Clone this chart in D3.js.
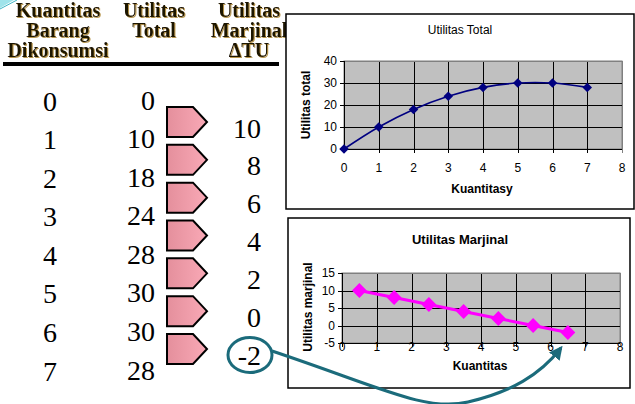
<!DOCTYPE html>
<html><head><meta charset="utf-8">
<script src="https://cdn.jsdelivr.net/npm/d3@7"></script>
<style>body{margin:0;background:#fff}svg{display:block}</style>
</head><body><svg id="c" width="635" height="404"></svg>
<script>
// ---------- data ----------
const quantities = [0, 1, 2, 3, 4, 5, 6, 7];
const totalUtility = [0, 10, 18, 24, 28, 30, 30, 28];
const marginalUtility = [10, 8, 6, 4, 2, 0, -2];
const marginalQty = [0.5, 1.5, 2.5, 3.5, 4.5, 5.5, 6.5];
const xTicks = [0, 1, 2, 3, 4, 5, 6, 7, 8];
const totalTicks = [0, 10, 20, 30, 40];
const marginalTicks = [-5, 0, 5, 10, 15];
const headQty = ["Kuantitas", "Barang", "Dikonsumsi"];
const headTotal = ["Utilitas", "Total"];
const headMarg = ["Utilitas", "Marjinal", "\u0394TU"];
const chart1Title = "Utilitas Total", chart1X = "Kuantitasy", chart1Y = "Utilitas total";
const chart2Title = "Utilitas Marjinal", chart2X = "Kuantitas", chart2Y = "Utilitas marjinal";

const svg = d3.select("#c");
const defs = svg.append("defs");
const grad = defs.append("linearGradient").attr("id", "pk");
grad.append("stop").attr("offset", "0%").attr("stop-color", "#e48f9c");
grad.append("stop").attr("offset", "100%").attr("stop-color", "#f9a9b6");
defs.append("marker").attr("id", "ah").attr("viewBox", "0 0 10 10")
  .attr("refX", 8).attr("refY", 5).attr("markerWidth", 4.5).attr("markerHeight", 4.5)
  .attr("orient", "auto").attr("markerUnits", "strokeWidth")
  .append("path").attr("d", "M0,0 L10,5 L0,10 Z").attr("fill", "#1b6b7b");
defs.append("filter").attr("id", "sh").attr("x", "-10%").attr("y", "-20%").attr("width", "130%").attr("height", "150%")
  .append("feDropShadow").attr("dx", 1).attr("dy", 1).attr("stdDeviation", 0.4)
  .attr("flood-color", "#b08a3a").attr("flood-opacity", 0.9);

// corner decoration
svg.append("path").attr("d", "M0,0 L14,0 L0,8 Z").attr("fill", "#9fe3ea");
svg.append("path").attr("d", "M0,9 L17,0").attr("stroke", "#3fb4c4").attr("stroke-width", 1);

// ---------- headers ----------
const serif = "'Liberation Serif','DejaVu Serif',serif";
function header(lines, cx) {
  lines.forEach((t, i) => {
    svg.append("text").attr("x", cx).attr("y", 17 + i * 20).attr("text-anchor", "middle")
      .attr("font-family", serif).attr("font-weight", "bold").attr("font-size", 20)
      .attr("fill", "#1a1204").attr("filter", "url(#sh)").text(t);
  });
}
header(headQty, 58);
header(headTotal, 154);
header(headMarg, 249);
svg.append("rect").attr("x", 3).attr("y", 62).attr("width", 276).attr("height", 4).attr("fill", "#000");

// ---------- table ----------
const rowY = d3.scaleLinear().domain([0, 7]).range([101, 371]);
const margY = d3.scaleLinear().domain([0, 6]).range([128, 355]);
const arrY = d3.scaleLinear().domain([0, 6]).range([122, 349]);
svg.selectAll("text.q").data(quantities).join("text").attr("class", "q")
  .attr("x", 50).attr("y", (d, i) => rowY(i)).attr("dominant-baseline", "central")
  .attr("text-anchor", "middle").attr("font-family", serif).attr("font-size", 28).text(d => d);
svg.selectAll("text.tu").data(totalUtility).join("text").attr("class", "tu")
  .attr("x", 155).attr("y", (d, i) => rowY(i) - 1).attr("dominant-baseline", "central")
  .attr("text-anchor", "end").attr("font-family", serif).attr("font-size", 28).text(d => d);
svg.selectAll("text.mu").data(marginalUtility).join("text").attr("class", "mu")
  .attr("x", 261).attr("y", (d, i) => margY(i)).attr("dominant-baseline", "central")
  .attr("text-anchor", "end").attr("font-family", serif).attr("font-size", 28).text(d => d);
svg.selectAll("path.pent").data(marginalUtility).join("path").attr("class", "pent")
  .attr("d", (d, i) => {
    const c = arrY(i);
    return `M167,${c - 15} L193,${c - 15} L207,${c} L193,${c + 15} L167,${c + 15} Z`;
  })
  .attr("fill", "url(#pk)").attr("stroke", "#000").attr("stroke-width", 2).attr("stroke-linejoin", "miter");

// ---------- charts ----------
const sans = "'Liberation Sans',Arial,sans-serif";
function chart(o) {
  const g = svg.append("g");
  g.append("rect").attr("x", o.box[0]).attr("y", o.box[1]).attr("width", o.box[2]).attr("height", o.box[3])
    .attr("fill", "#fff").attr("stroke", "#000").attr("stroke-width", 1.5);
  const x = d3.scaleLinear().domain([0, 8]).range([o.pl, o.pr]);
  const y = d3.scaleLinear().domain(d3.extent(o.yTicks)).range([o.pb, o.pt]);
  g.append("rect").attr("x", o.pl).attr("y", o.pt).attr("width", o.pr - o.pl).attr("height", o.pb - o.pt)
    .attr("fill", "#c0c0c0").attr("stroke", "#808080").attr("stroke-width", 1);
  g.selectAll("line.vg").data(xTicks).join("line")
    .attr("x1", d => Math.round(x(d)) + 0.5).attr("x2", d => Math.round(x(d)) + 0.5)
    .attr("y1", o.pt).attr("y2", o.pb + 4)
    .attr("stroke", d => d === 8 ? "#808080" : "#000").attr("stroke-width", 1);
  g.selectAll("line.hg").data(o.yTicks).join("line")
    .attr("x1", o.pl - 4).attr("x2", o.pr)
    .attr("y1", d => Math.round(y(d)) + 0.5).attr("y2", d => Math.round(y(d)) + 0.5)
    .attr("stroke", (d, i) => i === o.yTicks.length - 1 ? "#808080" : "#000").attr("stroke-width", 1);
  g.append("line").attr("x1", o.pl - 4).attr("x2", o.pl).attr("y1", o.pt + 0.5).attr("y2", o.pt + 0.5).attr("stroke", "#000");
  g.append("line").attr("x1", Math.round(o.pl) + 0.5).attr("x2", Math.round(o.pl) + 0.5)
    .attr("y1", o.pt).attr("y2", o.pb + 4).attr("stroke", "#000");
  g.selectAll("text.yt").data(o.yTicks).join("text")
    .attr("x", o.pl - 7).attr("y", d => y(d)).attr("dominant-baseline", "central")
    .attr("text-anchor", "end").attr("font-family", sans).attr("font-size", 12).text(d => d);
  g.selectAll("text.xt").data(xTicks).join("text")
    .attr("x", d => x(d)).attr("y", o.xLabY).attr("dominant-baseline", "central")
    .attr("text-anchor", "middle").attr("font-family", sans).attr("font-size", 12).text(d => d);
  g.append("text").attr("x", o.titleX).attr("y", o.titleY).attr("text-anchor", "middle")
    .attr("font-family", sans).attr("font-size", o.titleSize).attr("font-weight", o.titleWeight).text(o.title);
  g.append("text").attr("x", o.xTitleX).attr("y", o.xTitleY).attr("text-anchor", "middle")
    .attr("font-family", sans).attr("font-size", o.axSize).attr("font-weight", "bold").text(o.xTitle);
  g.append("text").attr("transform", `translate(${o.yTitleX},${o.yTitleY}) rotate(-90)`).attr("text-anchor", "middle")
    .attr("font-family", sans).attr("font-size", o.axSize).attr("font-weight", "bold").text(o.yTitle);
  const line = d3.line().x(d => x(d[0])).y(d => y(d[1])).curve(o.curve);
  const pts = o.xs.map((v, i) => [v, o.ys[i]]);
  g.append("path").attr("d", line(pts)).attr("fill", "none").attr("stroke", o.color).attr("stroke-width", o.lw);
  g.selectAll("path.mk").data(pts).join("path")
    .attr("transform", d => `translate(${x(d[0])},${y(d[1])}) rotate(45)`)
    .attr("d", d3.symbol(d3.symbolSquare, o.msize)).attr("fill", o.color);
  return { x, y };
}

chart({
  box: [286, 14, 348, 195], pl: 344, pr: 622, pt: 61, pb: 149, yTicks: totalTicks,
  xLabY: 168, title: chart1Title, titleX: 460, titleY: 34, titleSize: 12, titleWeight: "normal",
  xTitle: chart1X, xTitleX: 482, xTitleY: 193, yTitle: chart1Y, yTitleX: 310, yTitleY: 105, axSize: 12,
  xs: quantities, ys: totalUtility, color: "#000080", lw: 1.6, msize: 45, curve: d3.curveCatmullRom.alpha(0.5)
});
const c2 = chart({
  box: [288, 218, 342, 170], pl: 342, pr: 620, pt: 273, pb: 343, yTicks: marginalTicks,
  xLabY: 347, title: chart2Title, titleX: 460, titleY: 244, titleSize: 13, titleWeight: "bold",
  xTitle: chart2X, xTitleX: 480, xTitleY: 370, yTitle: chart2Y, yTitleX: 312, yTitleY: 307, axSize: 12,
  xs: marginalQty, ys: marginalUtility, color: "#ff00ff", lw: 3, msize: 110, curve: d3.curveLinear
});

// ---------- annotation ----------
const ex = 250, ey = margY(marginalUtility.length - 1);
svg.append("ellipse").attr("cx", ex).attr("cy", ey).attr("rx", 22).attr("ry", 17.5)
  .attr("fill", "none").attr("stroke", "#1b6b7b").attr("stroke-width", 3);
svg.append("path")
  .attr("d", `M${ex + 22},${ey - 4} C380,387 425,412 468,402 S540,375 ${c2.x(6.3)},${c2.y(-5) + 5}`)
  .attr("fill", "none").attr("stroke", "#1b6b7b").attr("stroke-width", 3).attr("marker-end", "url(#ah)");
</script></body></html>
